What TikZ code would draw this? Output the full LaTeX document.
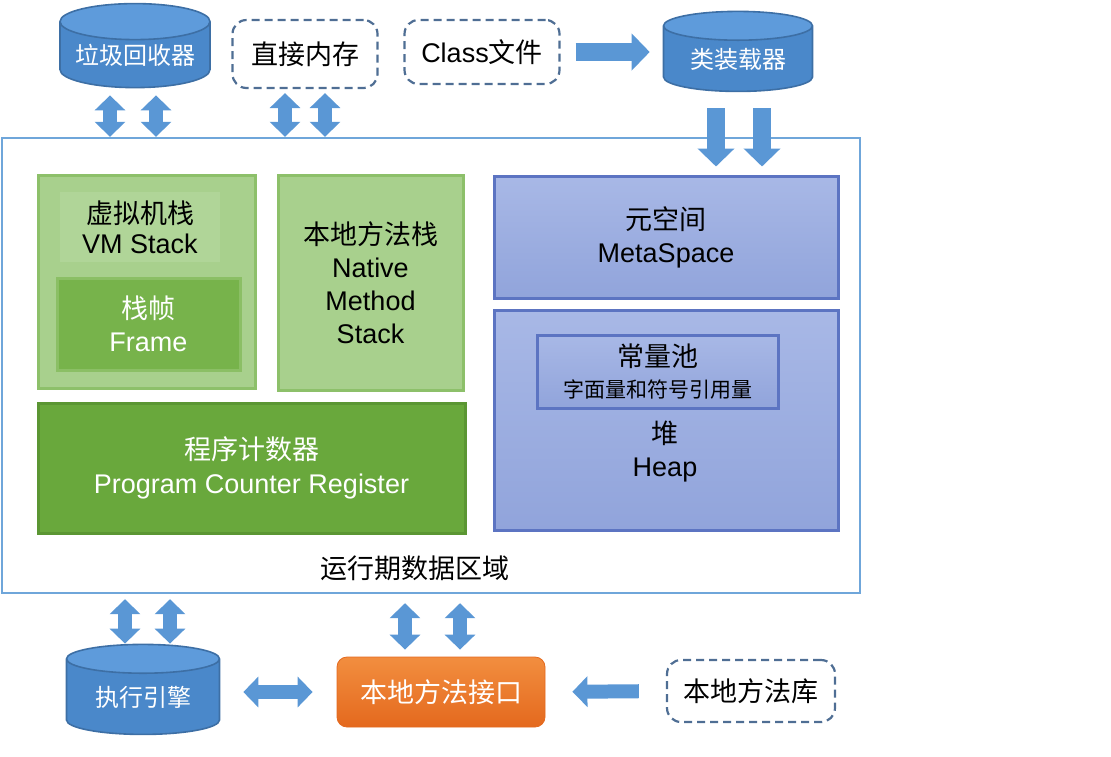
\documentclass[tikz,border=0pt]{standalone}
\usepackage{fontspec}
\setmainfont{Liberation Sans}
\newfontfamily\cjk{Noto Sans CJK SC}
\usetikzlibrary{shapes.geometric,arrows.meta}
\definecolor{cylbody}{HTML}{4A88CA}
\definecolor{cyltop}{HTML}{5E9BDB}
\definecolor{cylline}{HTML}{3D6FA5}
\definecolor{dashline}{HTML}{4F6E94}
\definecolor{outline}{HTML}{6FA6DA}
\definecolor{greenfill}{HTML}{A8D08D}
\definecolor{greenline}{HTML}{8DC06A}
\definecolor{greentitle}{HTML}{B0D598}
\definecolor{framefill}{HTML}{77B34B}
\definecolor{pcfill}{HTML}{69A83C}
\definecolor{pcline}{HTML}{5B9633}
\definecolor{bluetop}{HTML}{A8B8E6}
\definecolor{bluebot}{HTML}{91A4DB}
\definecolor{blueline}{HTML}{5C74C2}
\definecolor{orangetop}{HTML}{F28E3F}
\definecolor{orangebot}{HTML}{E4691E}
\definecolor{arrowblue}{HTML}{5A97D5}
\begin{document}
\begin{tikzpicture}[x=0.5pt, y=-0.5pt,
    every node/.style={font=\fontsize{13.5}{16.5}\selectfont, align=center, inner sep=0pt},
    db/.style={cylinder, shape border rotate=90, aspect=0.3, draw=cylline, line width=0.8pt,
        cylinder uses custom fill, cylinder body fill=cylbody, cylinder end fill=cyltop, text=white,
        font=\fontsize{12}{15}\selectfont},
    dashbox/.style={draw=dashline, line width=1.1pt, rounded corners=7pt, dash pattern=on 4pt off 2.5pt},
    greenbox/.style={draw=greenline, line width=1.5pt, fill=greenfill},
    bluebox/.style={draw=blueline, line width=1.5pt, top color=bluetop, bottom color=bluebot},
    blk/.style={draw=arrowblue, line width=7pt, >={Triangle[width=15pt,length=7.5pt]}},
    bigblk/.style={draw=arrowblue, line width=9pt, >={Triangle[width=18pt,length=9pt]}}]
    \useasboundingbox (0,0) rectangle (1111,756);
    % outside the runtime area
    \node[db, minimum width=75pt, minimum height=42pt] (gc) at (135,55) {\cjk 垃圾回收器};
    \node[dashbox, minimum width=72.5pt, minimum height=34pt] (dm) at (305,54) {\cjk 直接内存};
    \node[dashbox, minimum width=77.5pt, minimum height=32pt] (cls) at (482,52) {Class{\cjk 文件}};
    \node[db, minimum width=74.5pt, minimum height=40pt] (cl) at (738,59) {\cjk 类装载器};
    % runtime data area
    \node[draw=outline, line width=1.2pt, fill=white, minimum width=429pt, minimum height=227.5pt] (rt) at (431,365.5) {};
    \node (rtlab) at (415,568) {\cjk 运行期数据区域};
    \node[greenbox, minimum width=108.5pt, minimum height=106.5pt] (vms) at (146.5,281.5) {};
    \node[fill=greentitle, minimum width=80pt, minimum height=35pt, font=\fontsize{13.5}{15}\selectfont]
        (vmt) at (140,227) {{\cjk 虚拟机栈}\\VM Stack};
    \node[fill=framefill, draw=framefill!60!greenfill, line width=1.5pt, text=white,
        minimum width=91.5pt, minimum height=46pt] (frm) at (148.5,324) {{\cjk 栈帧}\\Frame};
    \node[greenbox, minimum width=92.5pt, minimum height=107.5pt] (nms) at (370.5,282.5) {{\cjk 本地方法栈}\\Native\\Method\\Stack};
    \node[draw=pcline, line width=1.5pt, fill=pcfill, text=white, minimum width=213.5pt, minimum height=65pt,
        font=\fontsize{13.5}{17}\selectfont] (pc) at (251.5,468) {{\cjk 程序计数器}\\Program Counter Register};
    \node[bluebox, minimum width=172pt, minimum height=61pt] (meta) at (666,237) {{\cjk 元空间}\\MetaSpace};
    \node[bluebox, minimum width=172pt, minimum height=110pt] (heap) at (666,420) {};
    \node[bluebox, minimum width=120.5pt, minimum height=36.5pt] (pool) at (657.5,371.5)
        {{\cjk 常量池}\\[-1pt]{\cjk\fontsize{10.5}{12}\selectfont 字面量和符号引用量}};
    \node (heaplab) at (665,452) {{\cjk 堆}\\Heap};
    % bottom row
    \node[db, minimum width=76.5pt, minimum height=45pt] (ee) at (143,697) {\cjk 执行引擎};
    \node[rounded corners=5pt, draw=orangebot, top color=orangetop, bottom color=orangebot, text=white,
        minimum width=104pt, minimum height=35pt] (jni) at (441,692) {\cjk 本地方法接口};
    \node[dashbox, minimum width=84pt, minimum height=31pt] (nlib) at (751,691) {\cjk 本地方法库};
    % connectors
    \draw[blk, <->, shorten <=3.5pt] ([xshift=-12.5pt]gc.south) -- ([xshift=-12.5pt]gc.south |- rt.north);
    \draw[blk, <->, shorten <=3.5pt] ([xshift=10.5pt]gc.south) -- ([xshift=10.5pt]gc.south |- rt.north);
    \draw[blk, <->, shorten <=2pt] ([xshift=-10pt]dm.south) -- ([xshift=-10pt]dm.south |- rt.north);
    \draw[blk, <->, shorten <=2pt] ([xshift=10pt]dm.south) -- ([xshift=10pt]dm.south |- rt.north);
    \draw[bigblk, ->, shorten <=7.5pt, shorten >=6.5pt] (cls.east) -- (cls.east -| cl.west);
    \draw[bigblk, ->, shorten <=8pt, shorten >=4pt] ([xshift=-11pt]cl.south) -- ([xshift=-11pt]cl.south |- meta.north);
    \draw[bigblk, ->, shorten <=8pt, shorten >=4pt] ([xshift=12pt]cl.south) -- ([xshift=12pt]cl.south |- meta.north);
    \draw[blk, <->, shorten <=2.5pt] ([xshift=-9pt]ee.north |- rt.south) -- ([xshift=-9pt]ee.north);
    \draw[blk, <->, shorten <=2.5pt] ([xshift=13.5pt]ee.north |- rt.south) -- ([xshift=13.5pt]ee.north);
    \draw[blk, <->, shorten <=4.5pt, shorten >=3.5pt] ([xshift=-18pt]jni.north |- rt.south) -- ([xshift=-18pt]jni.north);
    \draw[blk, <->, shorten <=4.5pt, shorten >=3.5pt] ([xshift=9.5pt]jni.north |- rt.south) -- ([xshift=9.5pt]jni.north);
    \draw[blk, <->, shorten <=11.5pt, shorten >=12pt] (ee.east |- jni.west) -- (jni.west);
    \draw[blk, ->, shorten <=13.5pt, shorten >=13.5pt] (nlib.west) -- (jni.east);
\end{tikzpicture}
\end{document}
